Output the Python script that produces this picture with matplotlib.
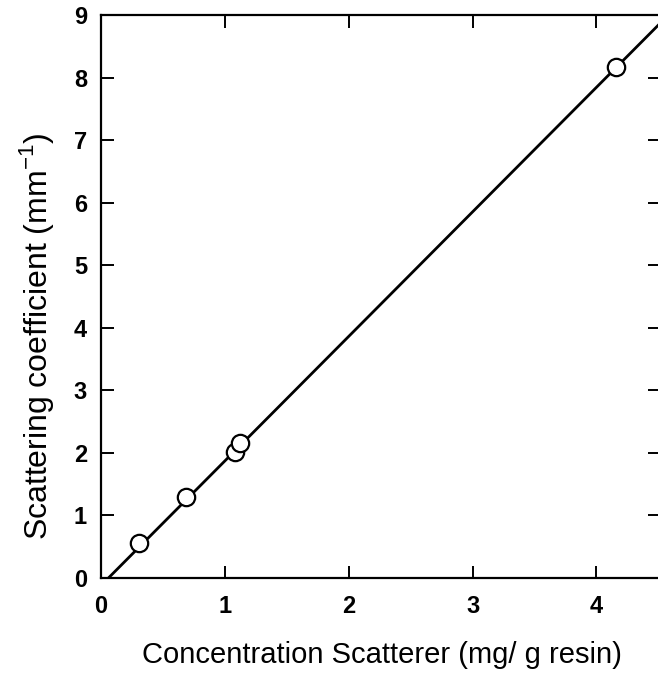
import matplotlib
matplotlib.use("Agg")
import matplotlib.pyplot as plt

# Measured points
conc = [0.31, 0.69, 1.08, 1.12, 4.16]
scatter = [0.56, 1.29, 2.01, 2.16, 8.17]

# Fitted line endpoints
fit_x = [0.06, 4.5]
fit_y = [0.0, 8.84]

x_ticks = [0, 1, 2, 3, 4]
y_ticks = [0, 1, 2, 3, 4, 5, 6, 7, 8, 9]

plt.rcParams['font.family'] = ['Liberation Sans', 'DejaVu Sans']

fig = plt.figure(figsize=(6.58, 6.82), dpi=100)
ax = fig.add_axes([0.1535, 0.1525, 0.849, 0.8255])

ax.plot(fit_x, fit_y, color='black', lw=2.0, zorder=2)
ax.plot(conc, scatter, 'o', ms=12.5, mfc='white', mec='black', mew=1.6, zorder=3)

ax.set_xlim(0, 4.51)
ax.set_ylim(0, 9)
ax.set_xticks(x_ticks)
ax.set_yticks(y_ticks)
ax.tick_params(direction='in', length=9, width=1.4, top=True, right=True,
               labelsize=17)
ax.tick_params(axis='x', pad=12)
ax.tick_params(axis='y', pad=10)
for lab in ax.get_xticklabels() + ax.get_yticklabels():
    lab.set_fontweight('bold')
for sp in ax.spines.values():
    sp.set_linewidth(1.6)

ax.set_xlabel('Concentration Scatterer (mg/ g resin)', fontsize=21, va='center')
ax.xaxis.set_label_coords(0.503, -0.137)
ax.set_ylabel('Scattering coefficient (mm$^{\\mathregular{-1}}$)', fontsize=23, va='center')
ax.yaxis.set_label_coords(-0.115, 0.43)

fig.savefig('out.png', dpi=100)
